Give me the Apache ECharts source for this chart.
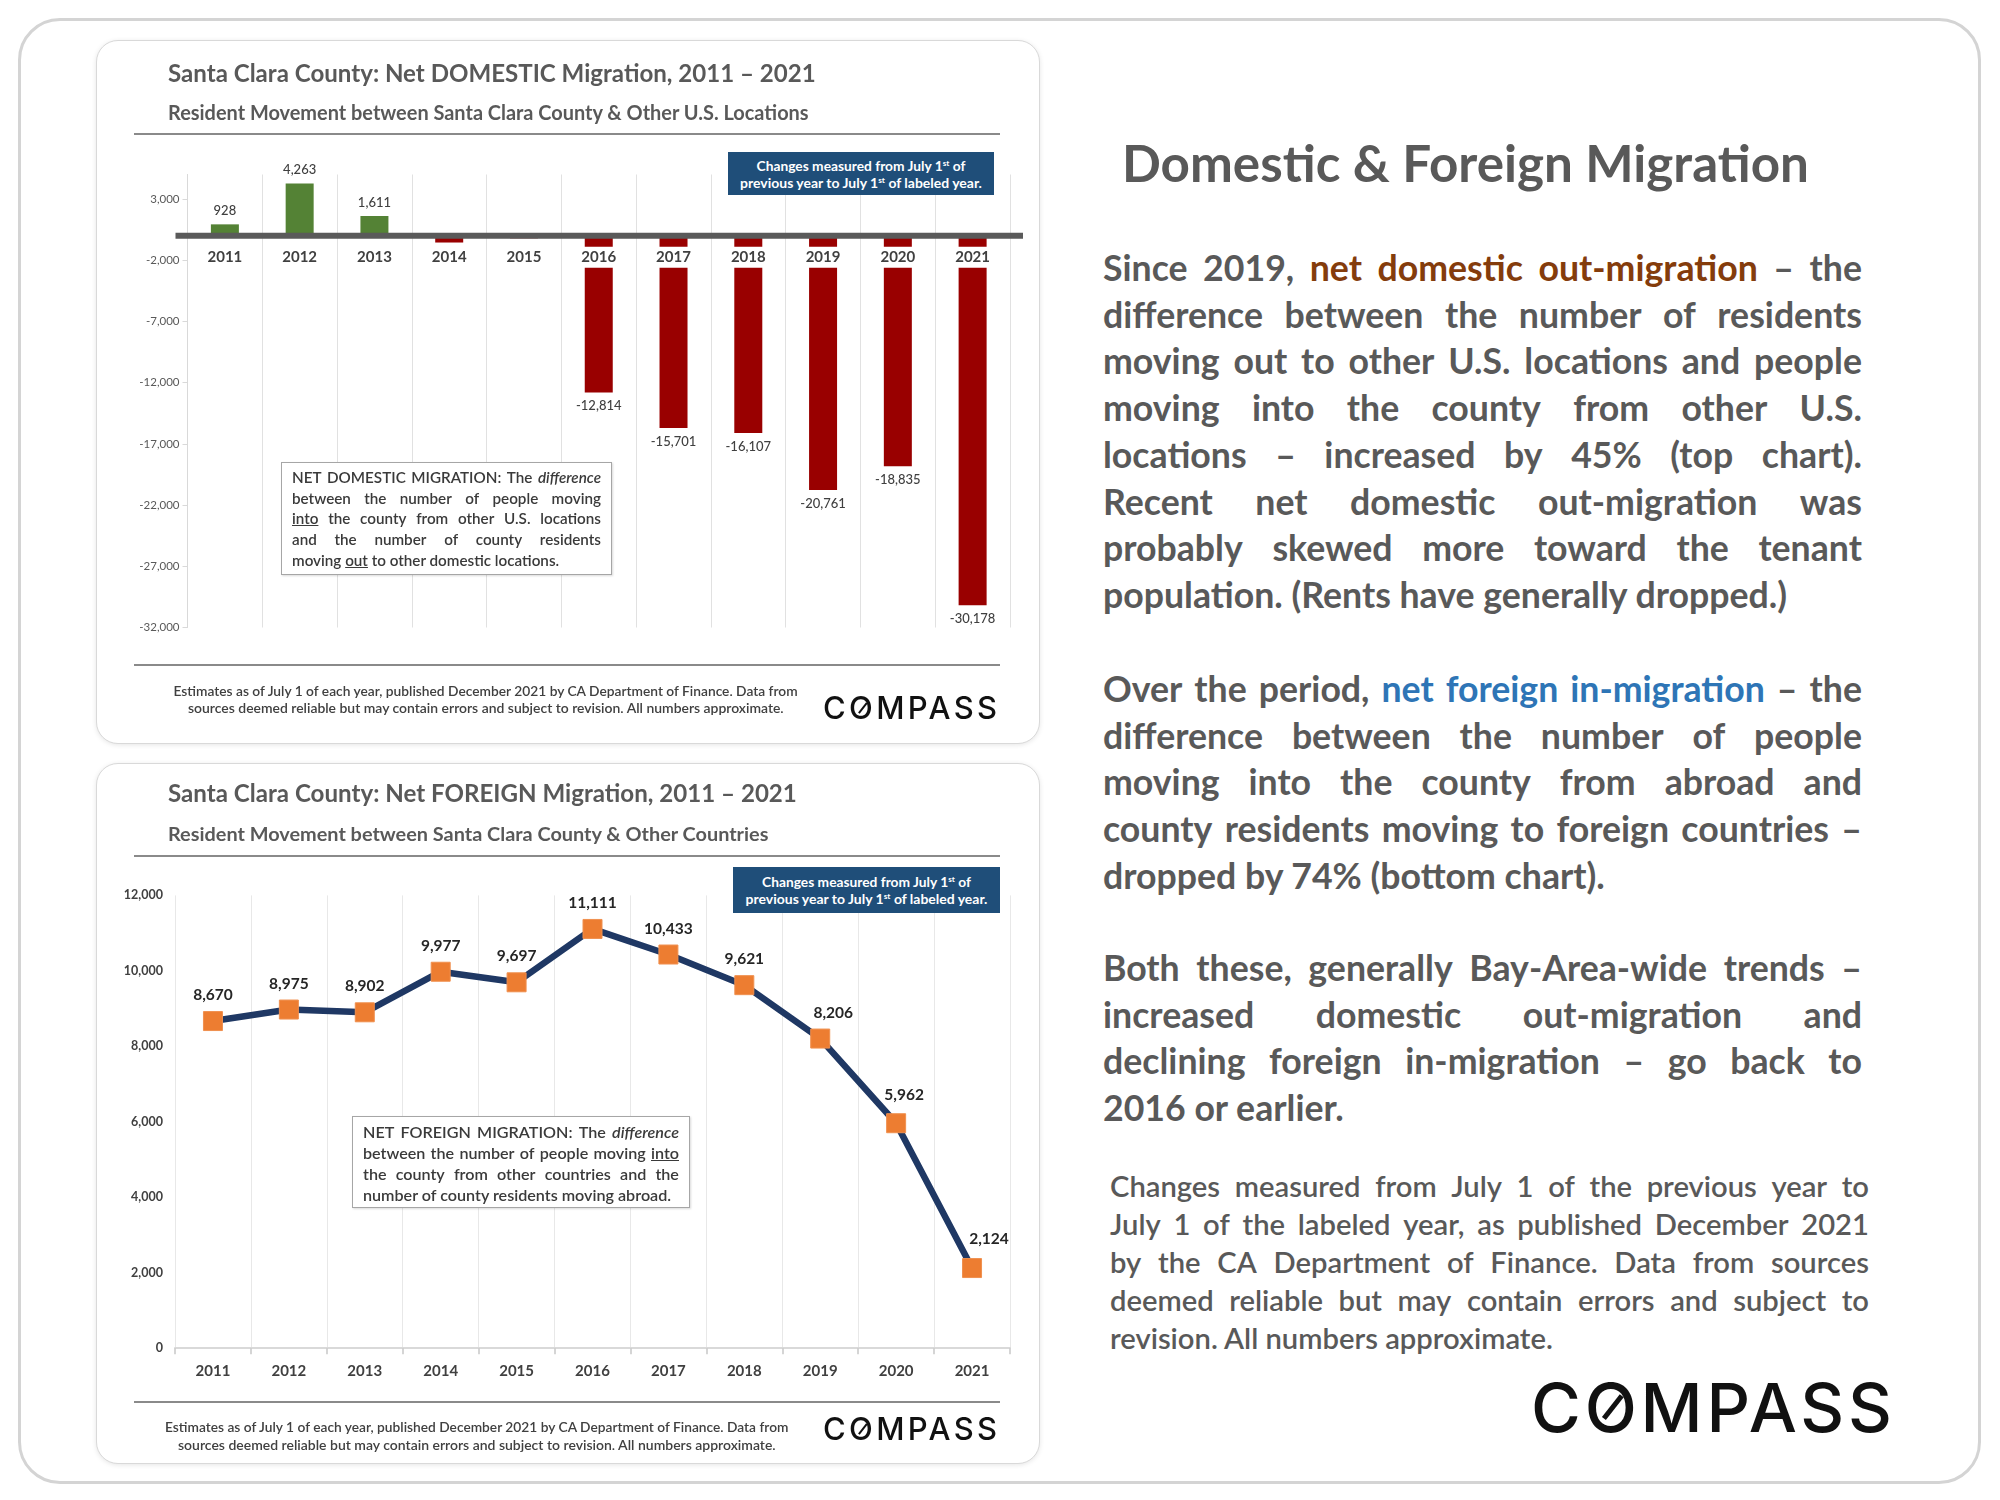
<!DOCTYPE html>
<html><head><meta charset="utf-8">
<script src="https://cdn.jsdelivr.net/npm/echarts@6/dist/echarts.min.js"></script>
<style>
html,body{margin:0;padding:0;background:#fff;}
body{width:2000px;height:1500px;position:relative;overflow:hidden;font-family:Lato,'Open Sans',sans-serif;color:#595959;}
.frame{position:absolute;left:18px;top:18px;width:1963px;height:1466px;border:3px solid #d4d4d4;border-radius:42px;box-sizing:border-box;}
.card{position:absolute;left:96px;width:944px;background:#fff;border:1.5px solid #d9d9d9;border-radius:22px;box-shadow:0 1px 5px rgba(0,0,0,0.10);box-sizing:border-box;}
.chart{position:absolute;left:96px;width:944px;}
.t{position:absolute;white-space:nowrap;z-index:5;}
.t span.in{display:inline-block;}
.sep{position:absolute;left:134px;width:866px;height:2px;background:#8a8a8a;z-index:5;}
.blue{position:absolute;background:#1f4e79;color:#fff;z-index:5;font-weight:700;text-align:center;display:flex;flex-direction:column;justify-content:center;}
.blue div{line-height:17px;white-space:nowrap;}
.blue sup{font-size:0.6em;vertical-align:0.55em;line-height:0;}
.note{position:absolute;background:#fff;border:1.3px solid #a6a6a6;z-index:6;box-sizing:border-box;color:#3a3a3a;font-weight:600;box-shadow:1px 1px 2px rgba(0,0,0,0.15);}
.jl{white-space:nowrap;}
.para{position:absolute;left:1103px;width:759px;color:#595959;font-weight:700;z-index:5;}
.c1{color:#843c0c;}
.c2{color:#2e75b6;}
.logo{font-family:Inter,'DejaVu Sans',sans-serif;font-weight:500;color:#111;}
.o{position:relative;display:inline-block;}
.o::after{content:'';position:absolute;left:50%;top:50%;width:0.075em;height:0.42em;background:currentColor;transform:translate(-50%,-50%) rotate(38deg);}
</style>
</head>
<body>
<div class="frame"></div>
<div class="card" style="top:40px;height:704px;"></div>
<div class="card" style="top:763px;height:701px;"></div>
<div id="top" class="chart" style="top:40px;height:704px;"></div>
<div id="bot" class="chart" style="top:763px;height:701px;"></div>

<!-- top card texts -->
<div class="t fit" data-w="648" style="left:168px;top:58px;height:30px;line-height:30px;font-size:22px;font-weight:700;color:#595959;"><span class="in">Santa Clara County: Net DOMESTIC Migration, 2011 – 2021</span></div>
<div class="t fit" data-w="641" style="left:168px;top:100px;height:24px;line-height:24px;font-size:18px;font-weight:700;color:#595959;"><span class="in">Resident Movement between Santa Clara County &amp; Other U.S. Locations</span></div>
<div class="sep" style="top:133px;"></div>
<div class="blue" style="left:728px;top:152px;width:266px;height:43px;">
  <div class="fitc" data-w="209" style="font-size:12px;">Changes measured from July 1<sup>st</sup> of</div>
  <div class="fitc" data-w="242" style="font-size:12px;">previous year to July 1<sup>st</sup> of labeled year.</div>
</div>
<div class="note" style="left:281px;top:462px;width:331px;height:113px;padding:4px 10px 0 10px;line-height:20.7px;" data-fitline="287">
  <div class="jl j">NET DOMESTIC MIGRATION: The <i>difference</i></div>
  <div class="jl j">between the number of people moving</div>
  <div class="jl j"><u>into</u> the county from other U.S. locations</div>
  <div class="jl j">and the number of county residents</div>
  <div class="jl last">moving <u>out</u> to other domestic locations.</div>
</div>
<div class="sep" style="top:664px;"></div>
<div class="t fitx" data-w="625" data-cx="486" style="top:682px;height:18px;line-height:18px;font-size:11px;color:#404040;font-weight:600;"><span class="in">Estimates as of July 1 of each year, published December 2021 by CA Department of Finance. Data from</span></div>
<div class="t fitx" data-w="596" data-cx="486" style="top:699px;height:18px;line-height:18px;font-size:11px;color:#404040;font-weight:600;"><span class="in">sources deemed reliable but may contain errors and subject to revision. All numbers approximate.</span></div>
<div class="t logo fitl" data-w="174" style="left:823px;top:690px;height:36px;line-height:36px;font-size:31px;"><span class="in">C<span class="o">O</span>MPASS</span></div>

<!-- bottom card texts -->
<div class="t fit" data-w="629" style="left:168px;top:778px;height:30px;line-height:30px;font-size:22px;font-weight:700;color:#595959;"><span class="in">Santa Clara County: Net FOREIGN Migration, 2011 – 2021</span></div>
<div class="t fit" data-w="601" style="left:168px;top:821px;height:24px;line-height:24px;font-size:18px;font-weight:700;color:#595959;"><span class="in">Resident Movement between Santa Clara County &amp; Other Countries</span></div>
<div class="sep" style="top:855px;"></div>
<div class="blue" style="left:733px;top:867px;width:267px;height:46px;">
  <div class="fitc" data-w="209" style="font-size:12px;">Changes measured from July 1<sup>st</sup> of</div>
  <div class="fitc" data-w="242" style="font-size:12px;">previous year to July 1<sup>st</sup> of labeled year.</div>
</div>
<div class="note" style="left:352px;top:1116px;width:338px;height:92px;padding:4px 10px 0 10px;line-height:21px;" data-fitline="315">
  <div class="jl j">NET FOREIGN MIGRATION: The <i>difference</i></div>
  <div class="jl j">between the number of people moving <u>into</u></div>
  <div class="jl j">the county from other countries and the</div>
  <div class="jl last">number of county residents moving abroad.</div>
</div>
<div class="sep" style="top:1401px;"></div>
<div class="t fitx" data-w="624" data-cx="477" style="top:1418px;height:18px;line-height:18px;font-size:11px;color:#404040;font-weight:600;"><span class="in">Estimates as of July 1 of each year, published December 2021 by CA Department of Finance. Data from</span></div>
<div class="t fitx" data-w="598" data-cx="477" style="top:1436px;height:18px;line-height:18px;font-size:11px;color:#404040;font-weight:600;"><span class="in">sources deemed reliable but may contain errors and subject to revision. All numbers approximate.</span></div>
<div class="t logo fitl" data-w="174" style="left:823px;top:1411px;height:36px;line-height:36px;font-size:31px;"><span class="in">C<span class="o">O</span>MPASS</span></div>

<!-- right side -->
<div class="t fit" data-w="687" style="left:1122px;top:134px;height:56px;line-height:56px;font-size:46px;font-weight:700;color:#595959;"><span class="in">Domestic &amp; Foreign Migration</span></div>

<div class="para" id="p1" style="top:245px;line-height:46.7px;">
  <div class="jl j">Since 2019, <span class="c1">net domestic out-migration</span> – the</div>
  <div class="jl j">difference between the number of residents</div>
  <div class="jl j">moving out to other U.S. locations and people</div>
  <div class="jl j">moving into the county from other U.S.</div>
  <div class="jl j">locations – increased by 45% (top chart).</div>
  <div class="jl j">Recent net domestic out-migration was</div>
  <div class="jl j">probably skewed more toward the tenant</div>
  <div class="jl last">population. (Rents have generally dropped.)</div>
</div>
<div class="para" id="p2" style="top:666px;line-height:46.7px;">
  <div class="jl j">Over the period, <span class="c2">net foreign in-migration</span> – the</div>
  <div class="jl j">difference between the number of people</div>
  <div class="jl j">moving into the county from abroad and</div>
  <div class="jl j">county residents moving to foreign countries –</div>
  <div class="jl last">dropped by 74% (bottom chart).</div>
</div>
<div class="para" id="p3" style="top:945px;line-height:46.7px;">
  <div class="jl j">Both these, generally Bay-Area-wide trends –</div>
  <div class="jl j">increased domestic out-migration and</div>
  <div class="jl j">declining foreign in-migration – go back to</div>
  <div class="jl last">2016 or earlier.</div>
</div>
<div class="para" id="p4" style="top:1167px;left:1110px;line-height:37.9px;font-weight:600;">
  <div class="jl j">Changes measured from July 1 of the previous year to</div>
  <div class="jl j">July 1 of the labeled year, as published December 2021</div>
  <div class="jl j">by the CA Department of Finance. Data from sources</div>
  <div class="jl j">deemed reliable but may contain errors and subject to</div>
  <div class="jl last">revision. All numbers approximate.</div>
</div>
<div class="t logo fitl" data-w="361" style="left:1531px;top:1370px;height:74px;line-height:74px;font-size:68px;"><span class="in">C<span class="o">O</span>MPASS</span></div>

<script>
// ---------- data ----------
const years = ['2011','2012','2013','2014','2015','2016','2017','2018','2019','2020','2021'];
const domesticMigration = [928, 4263, 1611, -556, -212, -12814, -15701, -16107, -20761, -18835, -30178];
const foreignMigration = [8670, 8975, 8902, 9977, 9697, 11111, 10433, 9621, 8206, 5962, 2124];
const domesticAxis = {min: -32000, max: 5000, interval: 5000};
const foreignAxis = {min: 0, max: 12000, interval: 2000};

const fmt = v => Number(v).toLocaleString('en-US');
const GREEN = '#548235', RED = '#990000';

// ---------- top chart ----------
const topChart = echarts.init(document.getElementById('top'), null, {renderer: 'canvas'});
const gridTop = {left: 91.5, right: 30, top: 134.5, bottom: 116.5};
topChart.setOption({
  animation: false,
  grid: Object.assign({outerBoundsMode: 'none'}, gridTop),
  xAxis: {
    type: 'category', data: years,
    axisLine: {show: false},
    axisTick: {show: false},
    splitLine: {show: true, lineStyle: {color: '#e1e1e1', width: 1}},
    axisLabel: {show: false}
  },
  yAxis: {
    type: 'value', min: domesticAxis.min, max: domesticAxis.max, interval: domesticAxis.interval,
    axisLine: {show: true, lineStyle: {color: '#d9d9d9', width: 1}},
    axisTick: {show: true, length: 5, lineStyle: {color: '#d9d9d9'}},
    splitLine: {show: false},
    axisLabel: {showMaxLabel: false, margin: 8, fontSize: 11.5, color: '#595959', fontFamily: 'Lato', formatter: fmt}
  },
  series: [{
    type: 'bar', barWidth: 28, z: 2,
    data: domesticMigration.map(v => ({
      value: v,
      itemStyle: {color: v >= 0 ? GREEN : RED},
      label: {show: Math.abs(v) >= 900, position: v >= 0 ? 'top' : 'bottom', distance: 7}
    })),
    label: {formatter: p => fmt(p.value), fontSize: 13, color: '#404040', fontFamily: 'Lato', fontWeight: 500}
  }, {
    // year labels sitting on the zero baseline (category axis labels placed at zero)
    type: 'scatter', z: 6, symbolSize: 0, silent: true,
    itemStyle: {opacity: 1},
    data: years.map(y => [y, 0]),
    label: {show: true, position: 'bottom', distance: 11, formatter: p => p.value[0], opacity: 1,
      fontSize: 15, fontWeight: 'bold', color: '#404040', fontFamily: 'Lato',
      backgroundColor: '#ffffff', padding: [3, 3, 3, 3]}
  }]
});
(function(){
  const y0 = topChart.convertToPixel({yAxisIndex: 0}, 0);
  const x1 = gridTop.left - 12, x2 = 944 - gridTop.right + 13;
  topChart.setOption({graphic: [{type: 'line', z: 100, shape: {x1: x1, y1: y0, x2: x2, y2: y0},
    style: {stroke: '#5a5a5a', lineWidth: 6}}]});
})();

// ---------- bottom chart ----------
const botChart = echarts.init(document.getElementById('bot'), null, {renderer: 'canvas'});
const labelShift = {8: [13, 0], 9: [8, -2], 10: [17, -3]};
botChart.setOption({
  animation: false,
  grid: {outerBoundsMode: 'none', left: 79, right: 30, top: 132.4, bottom: 115.8},
  xAxis: {
    type: 'category', data: years,
    axisLine: {show: true, lineStyle: {color: '#d9d9d9', width: 2}},
    axisTick: {show: true, length: 6, lineStyle: {color: '#c8c8c8', width: 1.5}},
    splitLine: {show: true, lineStyle: {color: '#e8e8e8', width: 1}},
    axisLabel: {margin: 15, fontSize: 15, fontWeight: 'bold', color: '#404040', fontFamily: 'Lato'}
  },
  yAxis: {
    type: 'value', min: foreignAxis.min, max: foreignAxis.max, interval: foreignAxis.interval,
    axisLine: {show: false}, axisTick: {show: false}, splitLine: {show: false},
    axisLabel: {margin: 12, fontSize: 12.5, fontWeight: 'bold', color: '#404040', fontFamily: 'Lato', formatter: fmt}
  },
  series: [{
    type: 'line',
    data: foreignMigration.map((v, i) => labelShift[i] ? {value: v, label: {offset: labelShift[i]}} : v),
    symbol: 'rect', symbolSize: 19,
    lineStyle: {color: '#1f3864', width: 6.5},
    itemStyle: {color: '#ed7d31', borderColor: '#f0904f', borderWidth: 1},
    label: {show: true, position: 'top', distance: 8, formatter: p => fmt(p.value),
      fontSize: 15.5, fontWeight: 'bold', color: '#262626', fontFamily: 'Lato'}
  }]
});

// ---------- text layout helpers ----------
function naturalWidth(el){ return el.getBoundingClientRect().width; }
function justify(el){
  const parts = [];
  Array.from(el.childNodes).forEach(n => {
    if (n.nodeType === 3) {
      n.textContent.split(/\s+/).filter(Boolean).forEach(w => parts.push(document.createTextNode(w)));
    } else if (n.nodeType === 1) {
      n.textContent.split(/\s+/).filter(Boolean).forEach(w => { const c = n.cloneNode(false); c.textContent = w; parts.push(c); });
    }
  });
  el.innerHTML = '';
  parts.forEach(p => { const s = document.createElement('span'); s.appendChild(p); el.appendChild(s); });
  el.style.display = 'flex';
  el.style.justifyContent = 'space-between';
  el.style.columnGap = '0.22em';
}
function lineWidthAt(line, fs, block){
  block.style.fontSize = fs + 'px';
  const probe = document.createElement('span'); probe.style.display = 'inline-block'; probe.style.whiteSpace = 'nowrap';
  while (line.firstChild) probe.appendChild(line.firstChild); line.appendChild(probe);
  const w = naturalWidth(probe);
  while (probe.firstChild) line.appendChild(probe.firstChild); probe.remove();
  return w;
}
// font size: last line gets its reference natural width, but no justified line may overflow
function fitBlock(block, target, avail){
  const base = 20;
  const last = block.querySelector('.last');
  let fs = base * target / lineWidthAt(last, base, block);
  block.querySelectorAll('.jl.j').forEach(l => {
    const w = lineWidthAt(l, base, block);
    fs = Math.min(fs, base * avail * 0.975 / w);
  });
  return fs;
}
function layoutText(){
  document.querySelectorAll('.fit, .fitx').forEach(el => {
    const inner = el.querySelector('.in');
    const fs = parseFloat(getComputedStyle(el).fontSize);
    const w = naturalWidth(inner);
    el.style.fontSize = (fs * (+el.dataset.w) / w) + 'px';
    if (el.dataset.cx) el.style.left = (+el.dataset.cx - (+el.dataset.w) / 2) + 'px';
  });
  document.querySelectorAll('.fitc').forEach(el => {
    const span = document.createElement('span'); span.style.display = 'inline-block';
    while (el.firstChild) span.appendChild(el.firstChild); el.appendChild(span);
    const fs = parseFloat(getComputedStyle(el).fontSize);
    el.style.fontSize = (fs * (+el.dataset.w) / naturalWidth(span)) + 'px';
  });
  document.querySelectorAll('.fitl').forEach(el => {
    const inner = el.querySelector('.in');
    const w = naturalWidth(inner);
    el.style.letterSpacing = Math.max(0, ((+el.dataset.w) - w) / 6) + 'px';
  });
  document.querySelectorAll('.note').forEach(n => {
    const avail = n.clientWidth - 20;
    n.style.fontSize = fitBlock(n, +n.dataset.fitline, avail) + 'px';
  });
  const p1 = document.getElementById('p1'), p2 = document.getElementById('p2'), p3 = document.getElementById('p3');
  const pfs = Math.min(fitBlock(p1, 705, 759), fitBlock(p2, 517, 759), fitBlock(p3, 241, 759));
  [p1, p2, p3].forEach(p => p.style.fontSize = pfs + 'px');
  const p4 = document.getElementById('p4');
  p4.style.fontSize = fitBlock(p4, 443, 759) + 'px';
  document.querySelectorAll('.jl.j').forEach(justify);
}
if (document.fonts && document.fonts.ready) { document.fonts.ready.then(layoutText); } else { layoutText(); }
</script>
</body></html>
